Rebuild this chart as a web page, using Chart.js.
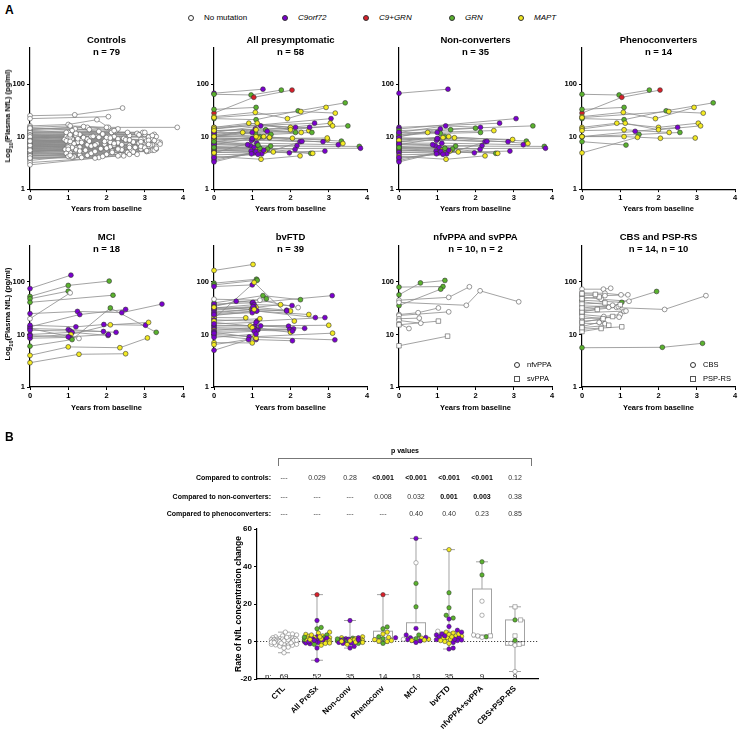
<!DOCTYPE html>
<html>
<head>
<meta charset="utf-8">
<script src="https://cdn.jsdelivr.net/npm/chart.js@4.4.0/dist/chart.umd.min.js"></script>
<style>
  body { margin: 0; background: #fff; }
  #fig { position: relative; width: 739px; height: 731px; overflow: hidden; font-family: 'Liberation Sans', Arial, sans-serif; }
  #fig canvas { position: absolute; }
  .t { position: absolute; white-space: nowrap; line-height: 1; color: #000; }
  .big { font-weight: bold; font-size: 12px; }
  .ttl { font-weight: bold; font-size: 9.5px; }
  .ax { font-weight: bold; font-size: 7.5px; }
  .leg { font-size: 8px; }
  .small { font-size: 7.5px; }
  .pl { font-weight: bold; font-size: 7px; }
  .pv { font-size: 7px; color: #333; }
  .pb { font-size: 7px; font-weight: bold; }
  .dot { position: absolute; width: 6px; height: 6px; border-radius: 50%; border: 0.6px solid #333; box-sizing: border-box; transform: translate(-50%, -50%); }
  .sq { position: absolute; width: 6px; height: 6px; border: 0.8px solid #555; box-sizing: border-box; transform: translate(-50%, -50%); }
</style>
</head>
<body>
<div id="fig"></div>
<script>
// mutation groups
const mutCodes = ['N', 'C', 'R', 'G', 'M'];
const mutLabels = ['No mutation', 'C9orf72', 'C9+GRN', 'GRN', 'MAPT'];
const mutColors = { N: '#ffffff', C: '#7b00cf', R: '#d8202a', G: '#5ab22e', M: '#f3ea22' };

const yearTicks = [0, 1, 2, 3, 4];
const nflTicks = [1, 10, 100];

// each subject: [mutation, [year, NfL, year, NfL, ...], shape]
const controls = [
  ['N', [0, 25, 1.17, 26, 2.42, 35]], ['N', [0, 22, 2.05, 24]], ['N', [0, 16, 1.0, 17, 1.75, 21, 2.05, 15]],
  ['N', [0, 15, 1.05, 16, 2.0, 15, 3.85, 15]], ['N', [0, 14, 1.5, 15, 2.25, 13]], ['N', [0, 13, 1.18, 14, 2.13, 12]],
  ['N', [0, 12, 1.1, 13, 2.8, 11.5]], ['N', [0, 11.5, 1.0, 12, 3.0, 11]], ['N', [0, 11, 0.95, 10, 2.6, 10.5]],
  ['N', [0, 10.5, 1.3, 11, 3.25, 11]], ['N', [0, 10, 1.1, 9, 2.2, 10]], ['N', [0, 9.8, 1.0, 9.5, 2.9, 8.8]],
  ['N', [0, 9.5, 1.6, 10, 3.1, 9.8]], ['N', [0, 9.2, 1.2, 10.5, 2.3, 9]], ['N', [0, 9, 0.9, 8.8, 2.05, 8.5]],
  ['N', [0, 8.8, 1.05, 9.8, 3.4, 7.8]], ['N', [0, 8.5, 1.35, 8.5, 2.45, 9.2]], ['N', [0, 8.3, 1.0, 8, 2.7, 7.9]],
  ['N', [0, 8, 1.15, 7.5, 3.05, 8.3]], ['N', [0, 7.8, 0.95, 8.3, 1.95, 7.2]], ['N', [0, 7.6, 1.25, 7.8, 2.85, 7.5]],
  ['N', [0, 7.4, 1.05, 7.2, 3.2, 7]], ['N', [0, 7.2, 1.5, 7, 2.3, 7.6]], ['N', [0, 7, 1.0, 6.8, 2.6, 6.8]],
  ['N', [0, 6.9, 1.15, 7.3, 3.0, 6.5]], ['N', [0, 6.7, 0.98, 6.5, 2.1, 6.4]], ['N', [0, 6.5, 1.3, 6.3, 3.15, 6.9]],
  ['N', [0, 6.3, 1.05, 6.6, 2.75, 6.2]], ['N', [0, 6.1, 1.2, 6, 1.85, 5.8]], ['N', [0, 6, 0.92, 5.7, 3.3, 5.8]],
  ['N', [0, 5.8, 1.1, 5.9, 2.4, 6]], ['N', [0, 5.6, 1.45, 5.5, 3.2, 5.5]], ['N', [0, 5.4, 1.0, 5.2, 2.15, 5.3]],
  ['N', [0, 5.2, 1.2, 5.6, 2.9, 5.8]], ['N', [0, 5, 1.05, 4.9, 2.55, 5]], ['N', [0, 4.8, 1.3, 4.5, 3.1, 5.3]],
  ['N', [0, 4.6, 0.95, 4.8, 2.0, 4.6]], ['N', [0, 4.4, 1.15, 4.2, 2.35, 4.5]], ['N', [0, 4.2, 1.5, 4.4, 2.6, 4.6]],
  ['N', [0, 4, 1.1, 4.1, 1.8, 4.0]], ['N', [0, 3.8, 1.35, 4.0, 2.45, 4.3]], ['N', [0, 3.5, 1.0, 4.2]],
  ['N', [0, 3.2, 1.7, 3.9]], ['N', [0, 2.9, 2.3, 4.3]], ['N', [0, 13.5, 1.4, 15.5, 2.3, 14]],
  ['N', [0, 12.5, 0.95, 12, 2.55, 12]], ['N', [0, 11.2, 1.2, 11.5, 2.95, 12]], ['N', [0, 10.2, 1.4, 9.6, 3.3, 10]],
  ['N', [0, 9.6, 1.05, 10.8, 2.0, 9.6]], ['N', [0, 8.9, 1.25, 9.1, 3.1, 8.5]], ['N', [0, 8.1, 1.5, 8.9, 2.9, 8]],
  ['N', [0, 7.9, 1.05, 8.1, 2.1, 7.8]], ['N', [0, 7.3, 1.35, 7.7, 3.35, 7.8]], ['N', [0, 6.8, 1.1, 6.2, 2.2, 6.9]],
  ['N', [0, 6.4, 1.6, 6.6, 2.9, 6.5]], ['N', [0, 5.9, 1.0, 6.3, 3.0, 6.1]], ['N', [0, 5.5, 1.3, 5.3, 2.65, 5.5]],
  ['N', [0, 5.1, 1.0, 5.7, 2.4, 5.6]], ['N', [0, 4.9, 1.6, 4.8, 3.05, 5.2]], ['N', [0, 4.5, 1.05, 4.4, 2.8, 4.6]],
  ['N', [0, 9.3, 1.8, 9.7, 3.2, 10.5]], ['N', [0, 8.6, 1.55, 8.2, 2.5, 8.7]], ['N', [0, 7.1, 1.75, 7.3, 3.1, 7.1]],
  ['N', [0, 6.6, 1.7, 6.9, 2.6, 6.2]], ['N', [0, 6.2, 2.0, 6.0, 3.25, 5.5]], ['N', [0, 5.7, 1.85, 5.9, 3.05, 5.4]],
  ['N', [0, 5.3, 1.7, 5.2, 2.7, 5.1]], ['N', [0, 12, 1.8, 12.5, 3.0, 12]], ['N', [0, 10.8, 1.9, 11.2, 2.85, 10.8]],
  ['N', [0, 10.6, 1.65, 10.1]], ['N', [0, 9.9, 2.1, 9.4]], ['N', [0, 8.4, 1.95, 8.1]],
  ['N', [0, 7.7, 2.2, 7.4]], ['N', [0, 14.5, 1.55, 13.6, 2.2, 13]], ['N', [0, 4.3, 2.15, 5.0]],
  ['N', [0, 3.9, 1.9, 4.2]], ['N', [0, 5.5, 2.3, 5.8, 3.3, 6.0]], ['N', [0, 6.8, 2.4, 7, 3.4, 7.2]],
  ['N', [0, 8.2, 2.6, 8.6, 3.25, 8.4]]
];

const nonConverters = [
  ['C', [0, 67, 1.28, 80]], ['C', [0, 15, 2.63, 18]], ['C', [0, 14, 3.06, 22]], ['G', [0, 13, 3.5, 16]],
  ['C', [0, 12, 1.22, 16, 2.13, 15]], ['G', [0, 11, 1.35, 13.5, 2.0, 14.5]], ['M', [0, 10, 0.75, 12, 2.48, 13]],
  ['C', [0, 10, 1.08, 14]], ['G', [0, 11, 1.08, 11.5, 2.13, 12]], ['M', [0, 9, 1.45, 9.5, 2.97, 8.8]],
  ['C', [0, 9, 1.02, 9, 2.25, 8]], ['C', [0, 8, 0.98, 8.5, 2.85, 8]], ['G', [0, 8, 1.2, 10, 3.33, 8.2]],
  ['C', [0, 7.5, 1.12, 7.5, 3.25, 7]], ['M', [0, 7, 1.15, 9.6, 3.37, 7.4]], ['C', [0, 7, 0.95, 6.7, 2.17, 6.7]],
  ['C', [0, 6.5, 1.05, 6.2, 2.12, 5.7]], ['G', [0, 6, 1.48, 6.6, 3.8, 6.5]], ['C', [0, 6, 1.2, 5.9, 3.83, 6]],
  ['M', [0, 5.8, 1.13, 5.5, 1.55, 5.1]], ['C', [0, 5.5, 0.97, 5.3, 1.97, 4.9]], ['G', [0, 5.3, 1.4, 5.8, 2.53, 4.8]],
  ['M', [0, 5, 1.33, 5.3, 2.58, 4.8]], ['C', [0, 5, 1.05, 4.9, 2.9, 5.3]], ['C', [0, 4.5, 1.25, 4.7, 2.3, 8.1]],
  ['M', [0, 4.2, 1.23, 3.7, 2.25, 4.3]], ['C', [0, 3.8, 0.98, 4.7]], ['C', [0, 3.5, 1.1, 5.2]],
  ['C', [0, 3.3, 1.3, 5.5]], ['C', [0, 12, 1.0, 12]], ['C', [0, 9.5, 1.0, 9.2]], ['M', [0, 8.5, 1.3, 10]],
  ['C', [0, 7.2, 0.88, 7]], ['G', [0, 6.2, 1.2, 6]], ['C', [0, 4, 1.15, 4.6]]
];

const phenoconverters = [
  ['G', [0, 64, 0.97, 62, 1.76, 77]], ['R', [0, 28, 1.04, 56, 2.04, 77]], ['G', [0, 33, 1.1, 36]],
  ['M', [0, 24, 1.08, 29, 1.92, 22, 2.93, 36]], ['G', [0, 22, 1.1, 21, 2.2, 31, 3.43, 44]],
  ['M', [0, 23, 2.27, 30, 3.17, 28]], ['M', [0, 15, 0.91, 18, 2.0, 15, 3.04, 18]],
  ['M', [0, 14, 1.13, 18, 2.0, 13.5, 3.1, 16]], ['C', [0, 10, 1.39, 12.6, 2.5, 15]],
  ['M', [0, 13, 1.1, 13.5, 2.28, 12]], ['G', [0, 10, 1.49, 11, 2.56, 12]],
  ['M', [0, 10, 1.1, 10, 2.05, 9.3, 2.96, 9.4]], ['G', [0, 8, 1.15, 6.9]], ['M', [0, 4.9, 1.45, 9.7]]
];

const mci = [
  ['C', [0, 75, 1.07, 135]], ['G', [0, 53, 1.0, 86, 2.07, 104]], ['G', [0, 48, 1.0, 67]], ['G', [0, 41, 2.17, 56]],
  ['N', [0, 20, 1.05, 62]], ['N', [0, 13, 1.28, 8.4]], ['C', [0, 25, 1.24, 27.5, 2.4, 26, 3.45, 38]],
  ['C', [0, 14, 1.3, 24, 2.5, 30]], ['C', [0, 15, 1.2, 14, 1.93, 15.5, 3.02, 15]], ['C', [0, 13, 1.0, 12.4, 2.25, 11]],
  ['C', [0, 12, 1.05, 11.7, 1.92, 11.4]], ['C', [0, 10, 1.1, 11, 2.04, 9.6]], ['M', [0, 9, 1.07, 10, 2.1, 15.3, 3.1, 17]],
  ['C', [0, 8.5, 1.04, 8.8]], ['G', [0, 6, 1.1, 8, 2.1, 32, 3.3, 11]], ['M', [0, 4, 1.0, 5.8, 2.35, 5.6, 3.07, 8.6]],
  ['M', [0, 2.9, 1.28, 4.2, 2.5, 4.3]], ['C', [0, 9.5, 1.0, 9, 2.05, 10]]
];

const bvftd = [
  ['M', [0, 166, 1.02, 216]], ['G', [0, 95, 1.11, 113]], ['G', [0, 88, 1.13, 108]], ['C', [0, 82, 1.0, 88]],
  ['M', [0, 20, 1.05, 98, 2.1, 18]], ['G', [0, 40, 1.28, 55, 2.26, 46]], ['G', [0, 36, 1.37, 48]],
  ['C', [0, 38, 1.0, 40, 3.09, 55]], ['N', [0, 47, 1.2, 45, 2.2, 32.6]], ['C', [0, 34, 0.58, 43, 1.02, 41]],
  ['C', [0, 32, 1.05, 37, 2.04, 35.6]], ['M', [0, 30, 1.1, 33, 1.74, 37]], ['C', [0, 29, 1.05, 33, 1.9, 29]],
  ['M', [0, 27, 0.98, 30, 2.0, 28]], ['M', [0, 25, 1.1, 28, 2.48, 24]], ['C', [0, 23, 1.12, 28, 2.65, 21]],
  ['M', [0, 21, 0.83, 20.8]], ['C', [0, 19, 1.13, 18, 2.9, 21]], ['M', [0, 17, 0.95, 14.6, 3.0, 15]],
  ['C', [0, 15, 1.07, 14.6, 1.95, 14.4]], ['C', [0, 14.5, 1.22, 14.6, 2.37, 13.1]], ['C', [0, 13.5, 1.05, 13, 1.98, 12.4]],
  ['C', [0, 12.8, 1.15, 12.3, 2.08, 12.8]], ['M', [0, 12, 1.0, 13.5, 2.0, 11]], ['C', [0, 11.5, 1.12, 12, 2.05, 11.6]],
  ['C', [0, 11, 0.92, 9, 3.16, 7.9]], ['M', [0, 10, 1.07, 9.1, 3.1, 10.6]], ['C', [0, 9.5, 1.1, 8, 2.05, 7.6]],
  ['M', [0, 7, 1.0, 6.9]], ['M', [0, 6.4, 1.1, 8.5]], ['C', [0, 5, 0.9, 8]], ['C', [0, 26, 1.0, 30, 1.9, 28]],
  ['C', [0, 24, 1.0, 26]], ['M', [0, 18, 1.2, 20]], ['C', [0, 16, 1.1, 17]], ['C', [0, 31, 1.02, 34]],
  ['C', [0, 10.5, 1.05, 11.5]], ['C', [0, 8.8, 1.1, 10.2]], ['M', [0, 33, 1.05, 30]]
];

const ppa = [
  ['G', [0, 80, 1.15, 82]], ['G', [0, 57, 0.56, 96, 1.2, 107]], ['G', [0, 35.5, 1.09, 73]],
  ['N', [0, 45, 1.3, 51, 1.84, 81]], ['N', [0, 41, 1.76, 36, 2.12, 68, 3.13, 42]], ['N', [0, 24, 0.5, 26, 1.03, 32]],
  ['N', [0, 23, 1.3, 27]], ['N', [0, 20, 0.53, 20.5]], ['N', [0, 18.5, 0.57, 16.4]], ['N', [0, 16, 0.26, 13]],
  ['N', [0, 15.3, 1.03, 18], 'sq'], ['N', [0, 6.1, 1.27, 9.3], 'sq']
];

const cbsPsp = [
  ['G', [0, 45, 1.04, 41, 1.95, 66]], ['G', [0, 5.6, 2.1, 5.7, 3.15, 6.8]],
  ['N', [0, 73, 0.56, 73, 0.75, 76]], ['N', [0, 62, 0.6, 61, 1.02, 57]], ['N', [0, 56, 0.6, 55, 1.2, 57]],
  ['N', [0, 52, 0.5, 47, 1.23, 43]], ['N', [0, 30, 0.7, 33, 2.16, 30, 3.24, 55]], ['N', [0, 28, 0.9, 33, 1.1, 27.5]],
  ['N', [0, 26, 1.15, 28]], ['N', [0, 24, 0.57, 22, 1.0, 24]], ['N', [0, 20, 0.97, 21.4]], ['N', [0, 18, 0.53, 19]],
  ['N', [0, 16.4, 0.6, 16]], ['N', [0, 14.2, 0.45, 17]], ['N', [0, 42, 0.8, 36]], ['N', [0, 35, 0.95, 34]],
  ['N', [0, 12.6, 1.04, 14], 'sq'], ['N', [0, 11.4, 0.5, 13], 'sq'], ['N', [0, 22, 0.55, 20], 'sq'],
  ['N', [0, 17, 0.8, 22], 'sq'], ['N', [0, 27, 0.4, 30], 'sq'], ['N', [0, 48, 0.45, 52], 'sq'],
  ['N', [0, 60, 0.35, 58], 'sq'], ['N', [0, 13.5, 0.7, 15], 'sq'], ['N', [0, 38, 0.6, 40], 'sq'],
  ['N', [0, 32, 1.0, 37], 'sq']
];

// panel B: rate of NfL change
const boxCats = ['CTL', 'All PreSx', 'Non-conv', 'Phenoconv', 'MCI', 'bvFTD', 'nfvPPA+svPPA', 'CBS+PSP-RS'];
const boxN = [69, 52, 35, 14, 18, 35, 9, 9];
const boxMin = [-6, -10, -3.5, -1, -0.5, -4, 2, -16];
const boxQ1 = [-1, -0.5, -0.5, 0, 1, 1, 2.5, -2];
const boxMed = [0, 0.7, 0.5, 2, 2, 2.5, 3.5, 0];
const boxQ3 = [1.5, 2, 1.5, 5.5, 10, 5, 28, 11.5];
const boxMax = [5, 25, 11.2, 25, 55, 49, 42.5, 18.5];
const rateTicks = [-20, 0, 20, 40, 60];

const rateCTL = [5, 4, 3.5, 3, 2.5, 2, 2, 1.8, 1.5, 1.5, 1.2, 1, 1, 1, 0.8, 0.5, 0.5, 0.3, 0.2, 0, 0, 0, -0.2, -0.3,
  -0.5, -0.5, -0.8, -1, -1, -1.2, -1.5, -1.5, -2, -2.5, -3, -3.5, -6, 0.6, 1.3, -0.7, 0.1, -0.1, 0.4, -0.4, 0.9,
  -0.9, 2.2, -1.8, 0.7, -0.6].map(v => ['N', v]);
const ratePreSx = [['R', 25], ['C', 11.2], ['G', 7.5], ['G', 6.8], ['M', 5], ['M', 4.5], ['M', 3.8], ['G', 3.5], ['M', 3],
  ['M', 2.8], ['C', 2.5], ['M', 2.2], ['M', 2], ['G', 2], ['M', 1.8], ['C', 1.5], ['M', 1.2], ['C', 1], ['M', 1], ['G', 0.8],
  ['C', 0.5], ['M', 0.5], ['C', 0.2], ['M', 0], ['C', 0], ['G', 0], ['M', -0.2], ['C', -0.5], ['M', -0.5], ['C', -0.8],
  ['M', -1], ['C', -1.2], ['M', -2], ['C', -3.5], ['C', -10], ['C', 0.8], ['M', 1.5], ['C', 1.8], ['M', 2.5], ['G', 1],
  ['C', -0.3], ['M', 0.3], ['C', 1.2], ['M', -0.8], ['G', -1.5], ['C', 2], ['M', 3.5], ['C', 0.6], ['M', 0.7], ['G', 2.3],
  ['C', -0.1], ['M', 1.1]];
const rateNonConv = [['C', 11.2], ['M', 2.5], ['M', 2], ['G', 1.8], ['C', 1.5], ['M', 1.2], ['M', 1], ['G', 1], ['C', 0.8],
  ['M', 0.5], ['C', 0.5], ['G', 0.3], ['M', 0.2], ['C', 0], ['G', 0], ['M', -0.2], ['C', -0.5], ['M', -0.5], ['C', -1],
  ['G', -1], ['M', -1.5], ['C', -2.5], ['C', -3.5], ['M', 1.5], ['C', 0.3], ['M', 0.8], ['G', 0.6], ['C', 1.2], ['M', -0.3],
  ['C', 2], ['M', 0.1], ['C', -0.8], ['G', 1.4], ['M', 0.4], ['C', 0.9]];
const ratePheno = [['R', 25], ['G', 7.8], ['G', 6.8], ['M', 5], ['M', 4], ['G', 2.5], ['C', 2], ['G', 1.5], ['M', 1],
  ['M', 0.5], ['M', 0], ['M', 0.2], ['G', -1], ['M', 2.2]];
const rateMCI = [['C', 55], ['N', 42], ['G', 31], ['G', 18.5], ['C', 7], ['G', 3.5], ['C', 3.5], ['C', 2], ['M', 1.8],
  ['G', 1.5], ['C', 1], ['M', 0.5], ['C', 0.3], ['M', 1.2], ['C', -0.5], ['C', 2.2], ['N', 1.2], ['M', 0.8]];
const rateBvFTD = [['M', 49], ['G', 26], ['G', 18], ['G', 14], ['G', 12.5], ['C', 12], ['C', 8], ['C', 6], ['M', 5],
  ['M', 4.5], ['C', 4], ['N', 5.5], ['C', 3.5], ['M', 3], ['M', 2.8], ['C', 2.5], ['M', 2], ['C', 2], ['M', 1.5], ['C', 1],
  ['M', 1], ['C', 0.5], ['M', 0], ['C', -0.5], ['C', -3.5], ['C', -4], ['M', -1], ['C', 3], ['M', 4], ['C', 1.2], ['M', 0.5],
  ['C', 5], ['M', 3.8], ['C', 0.8], ['M', 2.5]];
const ratePPA = [['G', 42.5], ['G', 35.5], ['N', 21.5], ['N', 14], ['N', 3.5], ['N', 3], ['G', 2.5], ['N', 2.2], ['Q', 3]];
const rateCBS = [['Q', 18.5], ['G', 11.5], ['Q', 11.5], ['Q', 3], ['G', 0.5], ['N', -1], ['N', -2], ['Q', -1.5], ['N', -16]];

const pRowLabels = ['Compared to controls:', 'Compared to non-converters:', 'Compared to phenoconverters:'];
const pControls = ['---', '0.029', '0.28', '<0.001', '<0.001', '<0.001', '<0.001', '0.12'];
const pNonConv = ['---', '---', '---', '0.008', '0.032', '0.001', '0.003', '0.38'];
const pPheno = ['---', '---', '---', '---', '0.40', '0.40', '0.23', '0.85'];
const pControlsBold = [0, 0, 0, 1, 1, 1, 1, 0];
const pNonConvBold = [0, 0, 0, 0, 0, 1, 1, 0];
const pPhenoBold = [0, 0, 0, 0, 0, 0, 0, 0];

const fig = document.getElementById('fig');
const FONT = "'Liberation Sans', Arial, sans-serif";

function txt(html, x, y, cls, align) {
  const d = document.createElement('div');
  d.className = 't ' + cls;
  d.innerHTML = html;
  d.style.left = x + 'px';
  d.style.top = y + 'px';
  const tx = align === 'right' ? '-100%' : align === 'left' ? '0' : '-50%';
  d.style.transform = 'translate(' + tx + ',-50%)';
  fig.appendChild(d);
  return d;
}

function marker(x, y, color, square) {
  const d = document.createElement('div');
  d.className = square ? 'sq' : 'dot';
  d.style.left = x + 'px';
  d.style.top = y + 'px';
  d.style.background = color;
  fig.appendChild(d);
}

function pairs(flat) {
  const out = [];
  for (let i = 0; i < flat.length; i += 2) out.push({ x: flat[i], y: flat[i + 1] });
  return out;
}

// ---- panel A ----
txt('A', 5, 10, 'big', 'left');
const legX = [191, 285, 366, 452, 521];
mutCodes.forEach((c, i) => {
  marker(legX[i], 18, mutColors[c], false);
  const t = txt(mutLabels[i], legX[i] + 13, 18, 'leg', 'left');
  if (i > 0) t.style.fontStyle = 'italic';
});

const panels = [
  { title: 'Controls', sub: 'n = 79', data: controls, col: 0, row: 0 },
  { title: 'All presymptomatic', sub: 'n = 58', data: nonConverters.concat(phenoconverters), col: 1, row: 0 },
  { title: 'Non-converters', sub: 'n = 35', data: nonConverters, col: 2, row: 0 },
  { title: 'Phenoconverters', sub: 'n = 14', data: phenoconverters, col: 3, row: 0 },
  { title: 'MCI', sub: 'n = 18', data: mci, col: 0, row: 1 },
  { title: 'bvFTD', sub: 'n = 39', data: bvftd, col: 1, row: 1 },
  { title: 'nfvPPA and svPPA', sub: 'n = 10, n = 2', data: ppa, col: 2, row: 1, legend: ['nfvPPA', 'svPPA'] },
  { title: 'CBS and PSP-RS', sub: 'n = 14, n = 10', data: cbsPsp, col: 3, row: 1, legend: ['CBS', 'PSP-RS'] }
];
const colX0 = [30, 214, 399, 582];
const rowTop = [47.4, 245.3];
const plotW = 153, plotH = 141.7;

const tickFont = { family: FONT, size: 7.5, weight: 'bold' };

function spaghetti(p) {
  const cv = document.createElement('canvas');
  const left = colX0[p.col] - 30;
  const top = Math.floor(rowTop[p.row]) - 9;
  const padTop = rowTop[p.row] - top;
  cv.width = 30 + plotW + 10;
  cv.height = Math.ceil(padTop + plotH + 18);
  const xAxisH = cv.height - padTop - plotH;
  cv.style.left = left + 'px';
  cv.style.top = top + 'px';
  fig.appendChild(cv);

  const pts = [], bg = [], bc = [], ps = [], pr = [];
  const lines = p.data.map(s => {
    const xy = pairs(s[1]);
    xy.forEach(q => {
      pts.push(q);
      bg.push(mutColors[s[0]]);
      bc.push(s[0] === 'N' ? '#555' : '#333');
      ps.push(s[2] === 'sq' ? 'rect' : 'circle');
      pr.push(s[2] === 'sq' ? 3.2 : 2.4);
    });
    return { data: xy, showLine: true, borderColor: '#8c8c8c', borderWidth: 0.8, pointRadius: 0, order: 1, clip: false };
  });
  const datasets = [{ data: pts, showLine: false, pointBackgroundColor: bg, pointBorderColor: bc, pointBorderWidth: 0.6,
    pointStyle: ps, pointRadius: pr, order: 0, clip: false }].concat(lines);

  new Chart(cv, {
    type: 'scatter',
    data: { datasets },
    options: {
      responsive: false, animation: false, events: [],
      layout: { padding: { top: padTop, left: 0, right: 10, bottom: 0 } },
      plugins: { legend: { display: false }, tooltip: { enabled: false } },
      scales: {
        x: {
          type: 'linear', min: 0, max: 4,
          afterBuildTicks: s => { s.ticks = yearTicks.map(v => ({ value: v })); },
          afterFit: s => { s.height = xAxisH; },
          ticks: { font: tickFont, color: '#000', padding: 1, autoSkip: false, maxRotation: 0 },
          grid: { drawOnChartArea: false, tickLength: 3, color: '#000', lineWidth: 1 },
          border: { color: '#000', width: 1.2 }
        },
        y: {
          type: 'logarithmic', min: 1, max: 500,
          afterBuildTicks: s => { s.ticks = nflTicks.map(v => ({ value: v })); },
          afterFit: s => { s.width = 30; },
          ticks: { font: tickFont, color: '#000', padding: 2, autoSkip: false, callback: v => String(v) },
          grid: { drawOnChartArea: false, tickLength: 3, color: '#000', lineWidth: 1 },
          border: { color: '#000', width: 1.2 }
        }
      }
    }
  });

  const cx = colX0[p.col] + plotW / 2;
  const titleY = p.row === 0 ? 40 : 237;
  txt(p.title, cx, titleY, 'ttl');
  txt(p.sub, cx, titleY + 11.5, 'ttl');
  txt('Years from baseline', cx, p.row === 0 ? 209 : 408, 'ax');
  if (p.col === 0) {
    const d = txt('Log<sub style="font-size:5.5px">10</sub>(Plasma NfL) (pg/ml)', 9, p.row === 0 ? 116 : 314, 'ax');
    d.style.transform = 'translate(-50%,-50%) rotate(-90deg)';
  }
  if (p.legend) {
    const lx = colX0[p.col] + (p.col === 2 ? 118 : 111);
    marker(lx, 365, '#fff', false);
    txt(p.legend[0], lx + 10, 365, 'small', 'left');
    marker(lx, 379, '#fff', true);
    txt(p.legend[1], lx + 10, 379, 'small', 'left');
  }
}
panels.forEach(spaghetti);

// ---- panel B ----
txt('B', 5, 437, 'big', 'left');

const rateCats = [rateCTL, ratePreSx, rateNonConv, ratePheno, rateMCI, rateBvFTD, ratePPA, rateCBS];

// deterministic beeswarm in pixels, kept within a narrow band (points may overlap)
function swarm(vals) {
  const pxX = 33, pxY = 150 / 80, d = 4.2, maxDx = 13;
  const idx = vals.map((v, i) => i).sort((a, b) => vals[a] - vals[b]);
  const placed = [], off = [];
  idx.forEach(i => {
    const py = vals[i] * pxY;
    let best = 0, bestDist = -1;
    for (let k = 0; ; k++) {
      const dx = Math.ceil(k / 2) * (k % 2 ? 1 : -1) * 1.4;
      if (Math.abs(dx) > maxDx) break;
      const md = placed.reduce((m, q) => Math.min(m, (q[0] - dx) ** 2 + (q[1] - py) ** 2), Infinity);
      if (md >= d * d) { best = dx; break; }
      if (md > bestDist) { bestDist = md; best = dx; }
    }
    placed.push([best, py]);
    off[i] = best / pxX;
  });
  return off;
}

const boxDatasets = rateCats.map((cat, ci) => {
  const off = swarm(cat.map(r => r[1]));
  return {
    data: cat.map((r, j) => ({ x: ci + off[j], y: r[1] })),
    pointBackgroundColor: cat.map(r => r[0] === 'Q' ? '#fff' : mutColors[r[0]]),
    pointBorderColor: cat.map(r => (r[0] === 'N' || r[0] === 'Q') ? '#666' : '#333'),
    pointStyle: cat.map(r => r[0] === 'Q' ? 'rect' : 'circle'),
    pointRadius: cat.map(r => r[0] === 'Q' ? 3 : 2.2),
    pointBorderWidth: 0.5, clip: false
  };
});

const boxPlugin = {
  id: 'boxes',
  beforeDatasetsDraw(chart) {
    const { ctx, chartArea, scales } = chart;
    const x = scales.x, y = scales.y;
    ctx.save();
    ctx.strokeStyle = '#a3a3a3';
    ctx.lineWidth = 1;
    boxCats.forEach((c, i) => {
      const cx = x.getPixelForValue(i), hw = 9.5, cw = 6;
      const yMin = y.getPixelForValue(boxMin[i]), yQ1 = y.getPixelForValue(boxQ1[i]);
      const yMed = y.getPixelForValue(boxMed[i]), yQ3 = y.getPixelForValue(boxQ3[i]);
      const yMax = y.getPixelForValue(boxMax[i]);
      ctx.beginPath();
      ctx.moveTo(cx, yMin); ctx.lineTo(cx, yQ1);
      ctx.moveTo(cx, yQ3); ctx.lineTo(cx, yMax);
      ctx.moveTo(cx - cw, yMin); ctx.lineTo(cx + cw, yMin);
      ctx.moveTo(cx - cw, yMax); ctx.lineTo(cx + cw, yMax);
      ctx.moveTo(cx - hw, yMed); ctx.lineTo(cx + hw, yMed);
      ctx.stroke();
      ctx.strokeRect(cx - hw, yQ3, hw * 2, yQ1 - yQ3);
    });
    const y0 = y.getPixelForValue(0);
    ctx.strokeStyle = '#444';
    ctx.setLineDash([1.2, 1.8]);
    ctx.beginPath();
    ctx.moveTo(chartArea.left, y0); ctx.lineTo(chartArea.right, y0);
    ctx.stroke();
    ctx.restore();
  },
  afterDraw(chart) {
    const { ctx, chartArea, scales } = chart;
    const yb = scales.y.getPixelForValue(-20) - 2;
    ctx.save();
    ctx.font = '8px ' + FONT;
    ctx.fillStyle = '#222';
    ctx.textBaseline = 'middle';
    ctx.textAlign = 'left';
    ctx.fillText('n:', chartArea.left + 8, yb);
    ctx.textAlign = 'center';
    boxN.forEach((n, i) => ctx.fillText(String(n), scales.x.getPixelForValue(i), yb));
    ctx.restore();
  }
};

const bcv = document.createElement('canvas');
bcv.width = 321; bcv.height = 210;
bcv.style.left = '227px'; bcv.style.top = '521px';
fig.appendChild(bcv);

const boxChart = new Chart(bcv, {
  type: 'scatter',
  data: { datasets: boxDatasets },
  plugins: [boxPlugin],
  options: {
    responsive: false, animation: false, events: [],
    layout: { padding: { top: 8, left: 0, right: 10, bottom: 0 } },
    plugins: { legend: { display: false }, tooltip: { enabled: false } },
    scales: {
      x: {
        type: 'linear', min: -0.818, max: 7.697,
        afterBuildTicks: s => { s.ticks = boxCats.map((c, i) => ({ value: i })); },
        afterFit: s => { s.height = 52; },
        ticks: { font: { family: FONT, size: 8, weight: 'bold' }, color: '#000', autoSkip: false,
          minRotation: 45, maxRotation: 45, padding: 5, callback: v => boxCats[v] },
        grid: { display: true, drawOnChartArea: false, drawTicks: false },
        border: { color: '#000', width: 1.2 }
      },
      y: {
        min: -20, max: 60,
        afterBuildTicks: s => { s.ticks = rateTicks.map(v => ({ value: v })); },
        afterFit: s => { s.width = 30; },
        ticks: { font: { family: FONT, size: 8, weight: 'bold' }, color: '#000', padding: 2, autoSkip: false },
        grid: { drawOnChartArea: false, tickLength: 3, color: '#000', lineWidth: 1 },
        border: { color: '#000', width: 1.2 }
      }
    }
  }
});

const yl = txt('Rate of NfL concentration change', 238, 604, 'ax');
yl.style.fontSize = '8.5px';
yl.style.transform = 'translate(-50%,-50%) rotate(-90deg)';

// p value table, columns aligned with the box plot categories
const colPx = boxCats.map((c, i) => 227 + boxChart.scales.x.getPixelForValue(i));
const rowsY = [477, 496, 513];
[pControls, pNonConv, pPheno].forEach((row, r) => {
  const bold = [pControlsBold, pNonConvBold, pPhenoBold][r];
  txt(pRowLabels[r], colPx[0] - 13, rowsY[r], 'pl', 'right');
  row.forEach((v, i) => txt(v.replace('<', '&lt;'), colPx[i], rowsY[r], bold[i] ? 'pb' : 'pv'));
});
const brL = colPx[0] - 6, brR = colPx[7] + 17;
txt('p values', (brL + brR) / 2, 450, 'pb');
const br = document.createElement('div');
br.style.cssText = 'position:absolute;left:' + brL + 'px;top:458px;width:' + (brR - brL) + 'px;height:8px;' +
  'border:1px solid #777;border-bottom:none;box-sizing:border-box';
fig.appendChild(br);
</script>
</body>
</html>
